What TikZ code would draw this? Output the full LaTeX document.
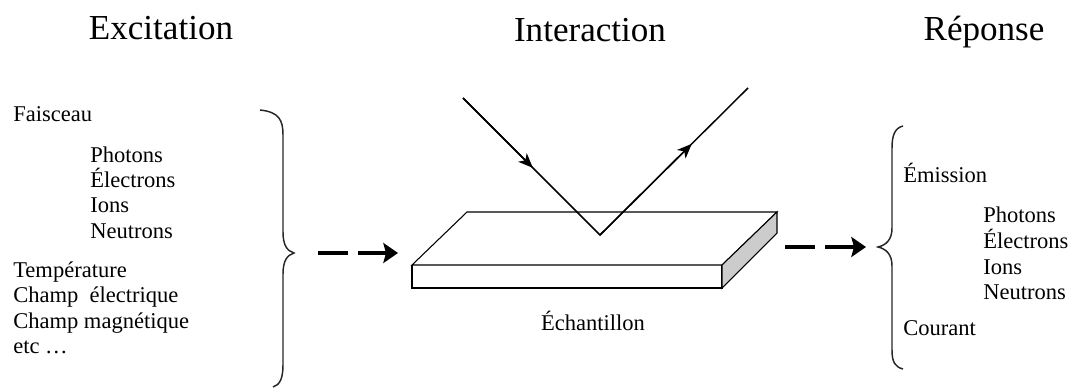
\documentclass[tikz,border=0pt]{standalone}
\usepackage{fontspec}
\setmainfont{Liberation Serif}
\usetikzlibrary{arrows.meta,calc}

\begin{document}
\begin{tikzpicture}[x=0.75pt,y=-0.75pt,
    titre/.style={anchor=base,inner sep=0pt,font=\fontsize{26.3}{30}\selectfont},
    texte/.style={anchor=base west,inner sep=0pt,font=\fontsize{16.9}{19}\selectfont},
    rayon/.style={line width=1.1pt},
    pointe/.style={-{Stealth[length=11pt,width=9pt,inset=3pt]}},
    fleche/.style={line width=3.2pt,dash pattern=on 22.5pt off 7.5pt,
        -{Stealth[length=11pt,width=15pt,inset=2pt]}},
    accolade/.style={line width=1.1pt,black!85}]
    \useasboundingbox (0,0) rectangle (1074,392);

    % echantillon
    \coordinate (BL) at (467,212);
    \coordinate (BR) at (777,212);
    \coordinate (FR) at (722,265);
    \coordinate (FL) at (412,265);
    \coordinate (FLb) at (412,288);
    \coordinate (FRb) at (722,288);
    \coordinate (BRb) at (777,233);

    % rayons
    \coordinate (S) at (463,98);
    \coordinate (V) at (600,235);
    \coordinate (R) at (748,88);

    \fill[white] (FL) -- (BL) -- (BR) -- (BRb) -- (FRb) -- (FLb) -- cycle;
    \draw[line width=0.8pt] (FL) -- (BL) -- (BR) -- (FR) -- cycle;
    \draw[line width=0.8pt] (FL) -- (FLb) -- (FRb) -- (FR);
    \filldraw[line width=0.8pt, fill=gray!40]
        (FR) -- (BR) -- (BRb) -- (FRb) -- cycle;

    \draw[rayon] (S) -- (V) -- (R);
    \draw[rayon,pointe] (S) -- ($(S)!0.51!(V)$);
    \draw[rayon,pointe] (V) -- ($(V)!0.62!(R)$);

    % accolades
    \draw[accolade] (260,110) .. controls (279,112) and (283,120) .. (283,135)
        -- (283,232) .. controls (283,245) and (287,251) .. (294,253)
        .. controls (287,255) and (283,261) .. (283,274)
        -- (283,365) .. controls (283,378) and (280,385) .. (273,387);
    \draw[accolade] (903,126) .. controls (895,128) and (892,135) .. (892,148)
        -- (892,228) .. controls (892,240) and (886,245) .. (878,247)
        .. controls (886,249) and (892,254) .. (892,266)
        -- (892,350) .. controls (892,362) and (895,367) .. (903,369);

    % fleches
    \coordinate (g1) at (318,253);
    \coordinate (g2) at (398,253);
    \coordinate (d1) at (785,247);
    \coordinate (d2) at (866,247);
    \draw[fleche] (g1) -- (g2);
    \draw[fleche] (d1) -- (d2);

    % titres
    \node[titre] (excitation) at (161,40) {Excitation};
    \node[titre] (interaction) at (590,42) {Interaction};
    \node[titre] (reponse) at (984,41) {Réponse};

    % excitation
    \node[texte] (faisceau) at (13,122) {Faisceau};
    \node[texte] (photonsE) at (90,162) {Photons};
    \node[texte] (electronsE) at (90,187.5) {Électrons};
    \node[texte] (ionsE) at (90,213) {Ions};
    \node[texte] (neutronsE) at (90,238.5) {Neutrons};
    \node[texte] (temperature) at (13,277) {Température};
    \node[texte] (champE) at (13,302.5) {Champ~ électrique};
    \node[texte] (champM) at (13,328) {Champ magnétique};
    \node[texte] (etc) at (13,353.5) {etc …};

    \node[texte,anchor=base] (echantillon) at (593,330) {Échantillon};

    % reponse
    \node[texte] (emission) at (903,182) {Émission};
    \node[texte] (photonsR) at (983,223) {Photons};
    \node[texte] (electronsR) at (983,248.5) {Électrons};
    \node[texte] (ionsR) at (983,274) {Ions};
    \node[texte] (neutronsR) at (983,299.5) {Neutrons};
    \node[texte] (courant) at (903,335) {Courant};
\end{tikzpicture}
\end{document}
